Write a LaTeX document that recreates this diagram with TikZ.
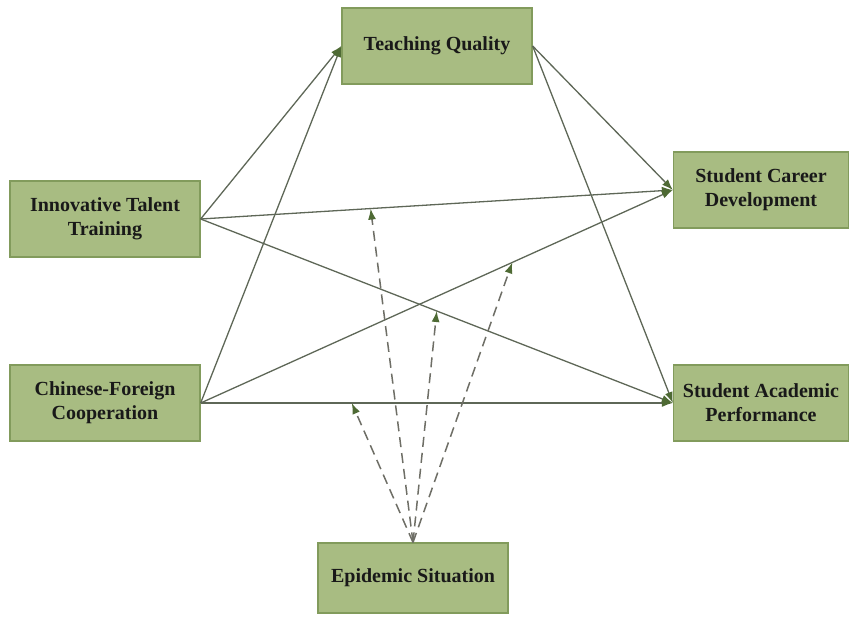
\documentclass[tikz,border=0pt]{standalone}
\usepackage{fontspec}
\setmainfont{Liberation Serif}
\usetikzlibrary{calc,arrows.meta}

\definecolor{boxfill}{HTML}{A8BC82}
\definecolor{boxline}{HTML}{829B5C}
\definecolor{linkgray}{HTML}{5E6757}
\definecolor{tipgreen}{HTML}{4E6A34}
\definecolor{dashgray}{HTML}{6E6E66}

\begin{document}
\begin{tikzpicture}[x=1pt,y=-1pt,
		box/.style={draw=boxline, line width=1.3pt, fill=boxfill, minimum width=190pt, minimum height=76pt,
			align=center, text=black!90, font=\bfseries\fontsize{20}{24}\selectfont},
		link/.style={draw=linkgray, line width=1.3pt, -{Latex[length=11pt,width=8pt,color=tipgreen]}},
		moderate/.style={draw=dashgray, line width=1.5pt, dash pattern=on 10pt off 6pt,
			-{Latex[length=11pt,width=8pt,color=tipgreen]}}]
				\useasboundingbox (0,0) rectangle (852,618);
				% constructs
				\node [box] (tq) at (437,46) {Teaching Quality};
				\node [box] (itt) at (105,219) {Innovative Talent\\Training};
				\node [box] (cfc) at (105,403) {Chinese-Foreign\\Cooperation};
				\node [box, minimum width=175pt] (scd) at (761,190) {Student Career\\Development};
				\node [box, minimum width=175pt] (sap) at (761,403) {Student Academic\\Performance};
				\node [box, minimum height=70pt] (es) at (413,578) {Epidemic Situation};
				% direct paths
				\draw [link] (itt.east) -- (tq.west);
				\draw [link] (cfc.east) -- (tq.west);
				\draw [link] (itt.east) -- (scd.west);
				\draw [link] (itt.east) -- (sap.west);
				\draw [link] (cfc.east) -- (scd.west);
				\draw [link] (cfc.east) -- (sap.west);
				\draw [link] (tq.east) -- (scd.west);
				\draw [link] (tq.east) -- (sap.west);
				% moderating paths
				\coordinate (m1) at ($(itt.east)!0.36!(scd.west)$);
				\coordinate (m2) at ($(itt.east)!0.50!(sap.west)$);
				\coordinate (m3) at ($(cfc.east)!0.66!(scd.west)$);
				\coordinate (m4) at ($(cfc.east)!0.32!(sap.west)$);
				\draw [moderate] (es.north) -- (m1);
				\draw [moderate] (es.north) -- (m2);
				\draw [moderate] (es.north) -- (m3);
				\draw [moderate] (es.north) -- (m4);
\end{tikzpicture}
\end{document}
